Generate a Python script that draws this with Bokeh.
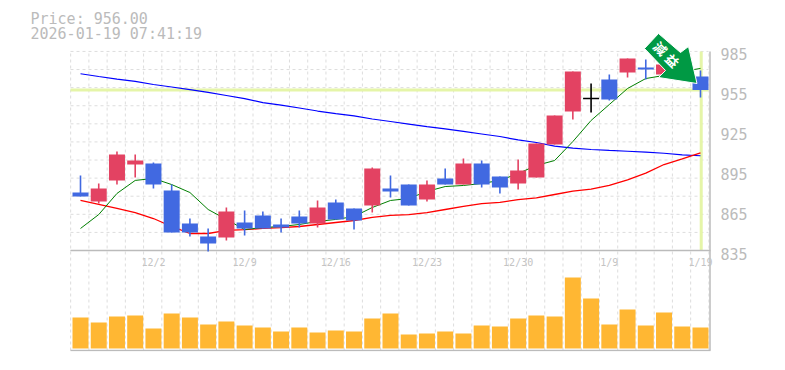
from bokeh.plotting import figure
from bokeh.models import Range1d, LinearAxis, FixedTicker
from bokeh.core.properties import value
from bokeh.embed import file_html
from bokeh.resources import INLINE

current_price = 956.0
headline = ["Price: 956.00", "2026-01-19 07:41:19"]
marker_chars = ["減", "益"]
date_index = [4, 9, 14, 19, 24, 29, 34]
date_labels = ["12/2", "12/9", "12/16", "12/23", "12/30", "1/9", "1/19"]
price_ticks = [835, 865, 895, 925, 955, 985]

opens = [878.7, 871.9, 887.8, 899.8, 900.6, 880.2, 855.3, 845.6, 844.8, 856.1, 861.4, 854.6,
         860.6, 855.3, 871.2, 866.7, 868.9, 881.7, 884.7, 873.4, 889.3, 884.7, 900.6, 890.8,
         885.5, 890.0, 914.9, 939.7, 949.5, 963.9, 969.1, 972.9, 967.6, 969.1, 966.1]
highs = [891.5, 885.5, 909.6, 907.3, 901.3, 884.7, 859.1, 851.6, 867.4, 865.1, 864.4, 859.1,
         865.1, 872.7, 873.4, 866.7, 897.5, 891.5, 884.7, 887.8, 896.8, 904.3, 902.8, 890.8,
         903.6, 915.6, 936.7, 969.9, 960.8, 967.6, 979.7, 979.0, 975.2, 976.7, 970.6]
lows = [875.7, 870.4, 884.7, 890.0, 881.7, 848.6, 845.6, 834.2, 842.5, 846.3, 851.6, 848.6,
        852.3, 852.3, 858.4, 850.8, 863.6, 875.0, 868.9, 871.9, 884.7, 884.7, 882.5, 878.0,
        881.0, 890.0, 914.9, 933.7, 939.0, 948.0, 965.4, 963.9, 967.6, 969.1, 950.3]
closes = [875.7, 881.7, 907.3, 902.8, 884.7, 848.6, 848.6, 840.3, 864.4, 851.6, 851.6, 852.3,
          855.3, 867.4, 858.4, 857.6, 896.8, 879.5, 868.9, 884.7, 884.7, 900.6, 884.7, 882.5,
          895.3, 915.6, 936.7, 969.9, 949.5, 948.8, 979.7, 971.4, 975.2, 976.7, 956.0]
volumes = [31, 26, 32, 33, 20, 35, 31, 24, 27, 23, 21, 17, 21, 16, 18, 17, 30, 35,
           14, 15, 17, 15, 23, 22, 30, 33, 32, 71, 50, 24, 39, 23, 36, 22, 21]
ma_short = [851.6, 862.1, 878.0, 887.8, 889.3, 884.7, 878.7, 865.9, 858.4, 850.8, 852.3, 853.1,
            854.6, 856.9, 858.4, 860.6, 867.4, 872.7, 874.2, 879.5, 883.2, 884.0, 885.5, 887.8,
            893.0, 899.1, 902.8, 917.1, 933.0, 945.0, 957.1, 964.6, 966.9, 969.9, 972.2]
ma_mid = [872.7, 869.7, 866.7, 863.6, 859.1, 853.1, 847.8, 847.8, 850.1, 850.8, 851.6, 852.3,
          853.1, 854.6, 856.1, 857.6, 859.9, 861.4, 862.1, 863.6, 865.9, 868.2, 870.4, 871.2,
          873.4, 874.7, 877.2, 879.7, 881.2, 884.0, 888.3, 893.3, 899.8, 904.1, 908.6]
ma_long = [968.2, 966.1, 964.2, 962.4, 960.1, 958.2, 956.3, 954.1, 951.8, 949.5, 946.5, 944.6,
           942.4, 940.1, 938.2, 936.4, 934.1, 932.2, 930.3, 928.4, 926.6, 924.7, 922.8, 920.9,
           918.3, 916.4, 913.6, 912.1, 911.1, 910.4, 909.8, 909.1, 908.3, 907.1, 906.4]

UP, DOWN, FLAT = "#E34262", "#4169E1", "#000000"
GRID, BORDER, TEXT = "#DDDDDD", "#BBBBBB", "#BBBBBB"
FONT = value("DejaVu Sans Mono")

n = len(closes)
idx = list(range(n))
PX_X = 18.235           # px per session
PX_Y = 1.327            # px per price unit
LEFT, RIGHT, FRAME_R = 70, 710, 720
MID, BOTTOM, GRID_TOP = 250, 351, 51
W, H = 769, 354
xpos = lambda px: (px - 80) / PX_X
ypos = lambda px: 835 + (MID - px) / PX_Y

# The frame fills the page down to the volume panel, so the headline can be drawn in it.
p = figure(width=W, height=H, output_backend="svg", toolbar_location=None,
           x_range=Range1d(xpos(0), xpos(FRAME_R)),
           y_range=Range1d(ypos(BOTTOM), ypos(0)),
           x_axis_location=None, y_axis_location=None,
           min_border_left=0, min_border_right=W - FRAME_R, min_border_top=0,
           min_border_bottom=H - BOTTOM,
           background_fill_color="white", border_fill_color="white", outline_line_color=None)
p.grid.visible = False
p.extra_y_ranges["volume"] = Range1d(-3, 348)
# tick labels sit a few pixels under the grid scale in the reference
LABEL_PX = 200 / 150
p.extra_y_ranges["labels"] = Range1d(835 - (BOTTOM - 253) / LABEL_PX, 985 + 53 / LABEL_PX)

# dashed grid
vg = [k - 0.54 for k in range(n + 1)]
p.segment(vg, ypos(350), vg, ypos(GRID_TOP), line_color=GRID, line_width=1, line_dash="3 3")
hg = [835 + k * 150 / 11 for k in range(12)]
p.segment(xpos(LEFT), hg, xpos(708), hg, line_color=GRID, line_width=1, line_dash="3 3")

# current price cross-hair bands
p.segment(xpos(LEFT), current_price, xpos(708), current_price, line_color="#E5F5A8", line_width=3)
p.segment(n - 1 + 0.04, 835, n - 1 + 0.04, ypos(GRID_TOP), line_color="#E5F5A8", line_width=3)

# borders
p.segment(xpos(LEFT), [835, ypos(350)], xpos(RIGHT), [835, ypos(350)],
          line_color=BORDER, line_width=1.5)
p.segment(xpos(RIGHT - 0.5), ypos(350), xpos(RIGHT - 0.5), ypos(GRID_TOP),
          line_color=BORDER, line_width=1.5)

# moving averages
p.line(idx, ma_long, line_color="#0000FF", line_width=1.2)
p.line(idx, ma_mid, line_color="#FF0000", line_width=1.3)
p.line(idx, ma_short, line_color="#007F00", line_width=1)

# candles
colors = [FLAT if o == c else (UP if c > o else DOWN) for o, c in zip(opens, closes)]
p.segment(idx, highs, idx, lows, line_color=colors, line_width=1.6)
bw = 16 / PX_X
p.vbar(idx, bw, [max(o, c) for o, c in zip(opens, closes)], [min(o, c) for o, c in zip(opens, closes)],
       fill_color=colors, line_color=None)
flat = [i for i in idx if opens[i] == closes[i]]
p.segment([i - bw / 2 for i in flat], [closes[i] for i in flat],
          [i + bw / 2 for i in flat], [closes[i] for i in flat],
          line_color=FLAT, line_width=1.4)

# volume
p.vbar(idx, bw, volumes, 0, fill_color="#FFB733", line_color=None, y_range_name="volume")

# marker arrow, placed relative to the last candle
ax = [644, 658, 680, 688, 696.5, 658, 665]
ay = [48, 33, 52, 46, 83, 77, 70]
p.patch([xpos(a) for a in ax], [ypos(a) for a in ay], fill_color="#009944",
        line_color="white", line_width=1)
p.text([xpos(660), xpos(672)], [ypos(48), ypos(60)], text=marker_chars, angle=-45, angle_units="deg",
       text_color="white", text_font=value("Noto Sans CJK JP"), text_font_style="bold",
       text_font_size="13px", text_align="center", text_baseline="middle")

# date labels inside the gap between panels
p.text(date_index, ypos(262), text=date_labels, text_font=FONT, text_font_size="10px",
       text_color="#C4C4C4", text_align="center", text_baseline="middle")

# headline
p.text(xpos(30), [ypos(18), ypos(33)], text=headline, text_font=FONT, text_font_size="15px",
       text_color=TEXT, text_align="left", text_baseline="middle")

# price axis
axis = LinearAxis(y_range_name="labels", ticker=FixedTicker(ticks=price_ticks),
                  axis_line_color=None, major_tick_line_color=None, minor_tick_line_color=None,
                  major_label_text_font="DejaVu Sans Mono", major_label_text_font_size="15px",
                  major_label_text_color=TEXT, major_label_standoff=0)
axis.major_tick_out = 0
p.add_layout(axis, "right")

open("out.html", "w").write(file_html(p, INLINE))
